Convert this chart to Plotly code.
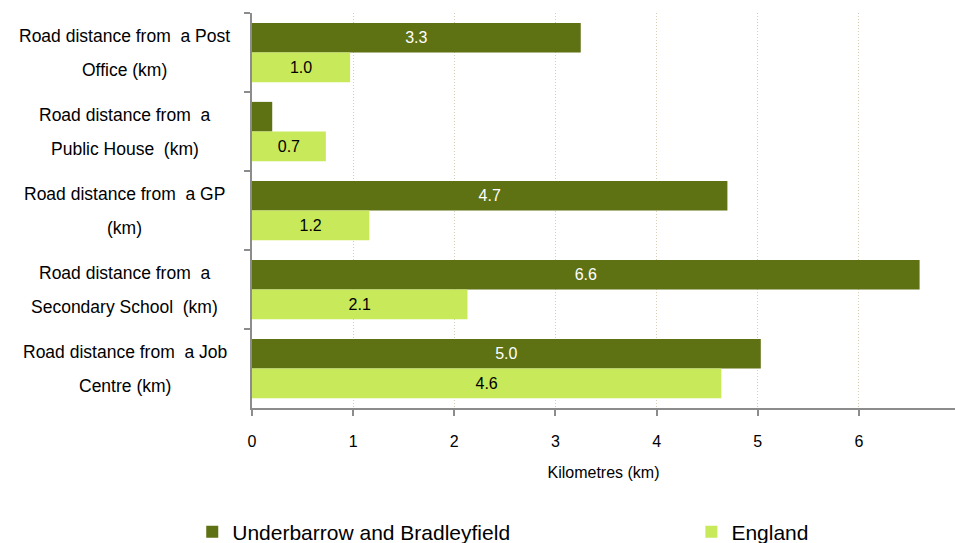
import plotly.graph_objects as go

categories = [
    "Road distance from  a Post<br>Office (km)",
    "Road distance from  a<br>Public House  (km)",
    "Road distance from  a GP<br>(km)",
    "Road distance from  a<br>Secondary School  (km)",
    "Road distance from  a Job<br>Centre (km)",
]
local_name = "Underbarrow and Bradleyfield"
local_values = [3.25, 0.2, 4.7, 6.6, 5.03]
england_name = "England"
england_values = [0.97, 0.73, 1.16, 2.13, 4.64]
x_ticks = [0, 1, 2, 3, 4, 5, 6]

DARK = "#5e7113"
LIGHT = "#c8e95a"
FONT = "Liberation Sans, Arial, sans-serif"

fig = go.Figure()
fig.add_trace(go.Bar(
    y=categories, x=local_values, name=local_name, orientation="h",
    marker=dict(color=DARK, line=dict(width=0)),
    texttemplate="%{x:.1f}", textposition="inside", insidetextanchor="middle",
    textfont=dict(color="white", size=16, family=FONT),
    legend="legend",
))
fig.add_trace(go.Bar(
    y=categories, x=england_values, name=england_name, orientation="h",
    marker=dict(color=LIGHT, line=dict(width=0)),
    texttemplate="%{x:.1f}", textposition="inside", insidetextanchor="middle",
    textfont=dict(color="black", size=16, family=FONT),
    legend="legend2",
))

# Category labels drawn as centred two-line annotations
annotations = []
for cat in categories:
    first, second = cat.split("<br>")
    for line, shift in ((first, 17), (second, -17)):
        annotations.append(dict(
            x=-0.181, xref="paper", y=cat, yref="y", yshift=shift,
            text=line, showarrow=False, xanchor="center", yanchor="middle",
            font=dict(size=17.5, family=FONT, color="black"),
        ))

legend_style = dict(
    orientation="h", xanchor="left", y=-0.314, yanchor="middle",
    font=dict(size=21, family=FONT, color="black"), bgcolor="rgba(0,0,0,0)",
)

fig.update_layout(
    width=955, height=543,
    margin=dict(l=252, r=0, t=13, b=135, autoexpand=False),
    paper_bgcolor="white", plot_bgcolor="white",
    barmode="group", bargap=0.25, bargroupgap=0,
    font=dict(family=FONT, size=16, color="black"),
    uniformtext=dict(minsize=16, mode="hide"),
    annotations=annotations,
    legend=dict(x=-0.085, **legend_style),
    legend2=dict(x=0.625, **legend_style),
    xaxis=dict(
        range=[0, 6.95], tickvals=x_ticks, ticktext=[str(t) for t in x_ticks],
        showgrid=True, gridcolor="#d6cfb5", griddash="1px,2px", gridwidth=1,
        zeroline=False, showline=True, linecolor="#8c8c8c", linewidth=2,
        ticks="outside", ticklen=6, tickcolor="#8c8c8c", tickwidth=2,
        tickfont=dict(size=16), ticklabelstandoff=12,
        title=dict(text="Kilometres (km)", font=dict(size=16), standoff=18),
    ),
    yaxis=dict(
        autorange="reversed", showticklabels=False, showgrid=False,
        zeroline=False, showline=True, linecolor="#8c8c8c", linewidth=2,
        ticks="outside", ticklen=6, tickcolor="#8c8c8c", tickwidth=2,
        tickson="boundaries",
    ),
    showlegend=True,
)

fig.write_html("out.html")
